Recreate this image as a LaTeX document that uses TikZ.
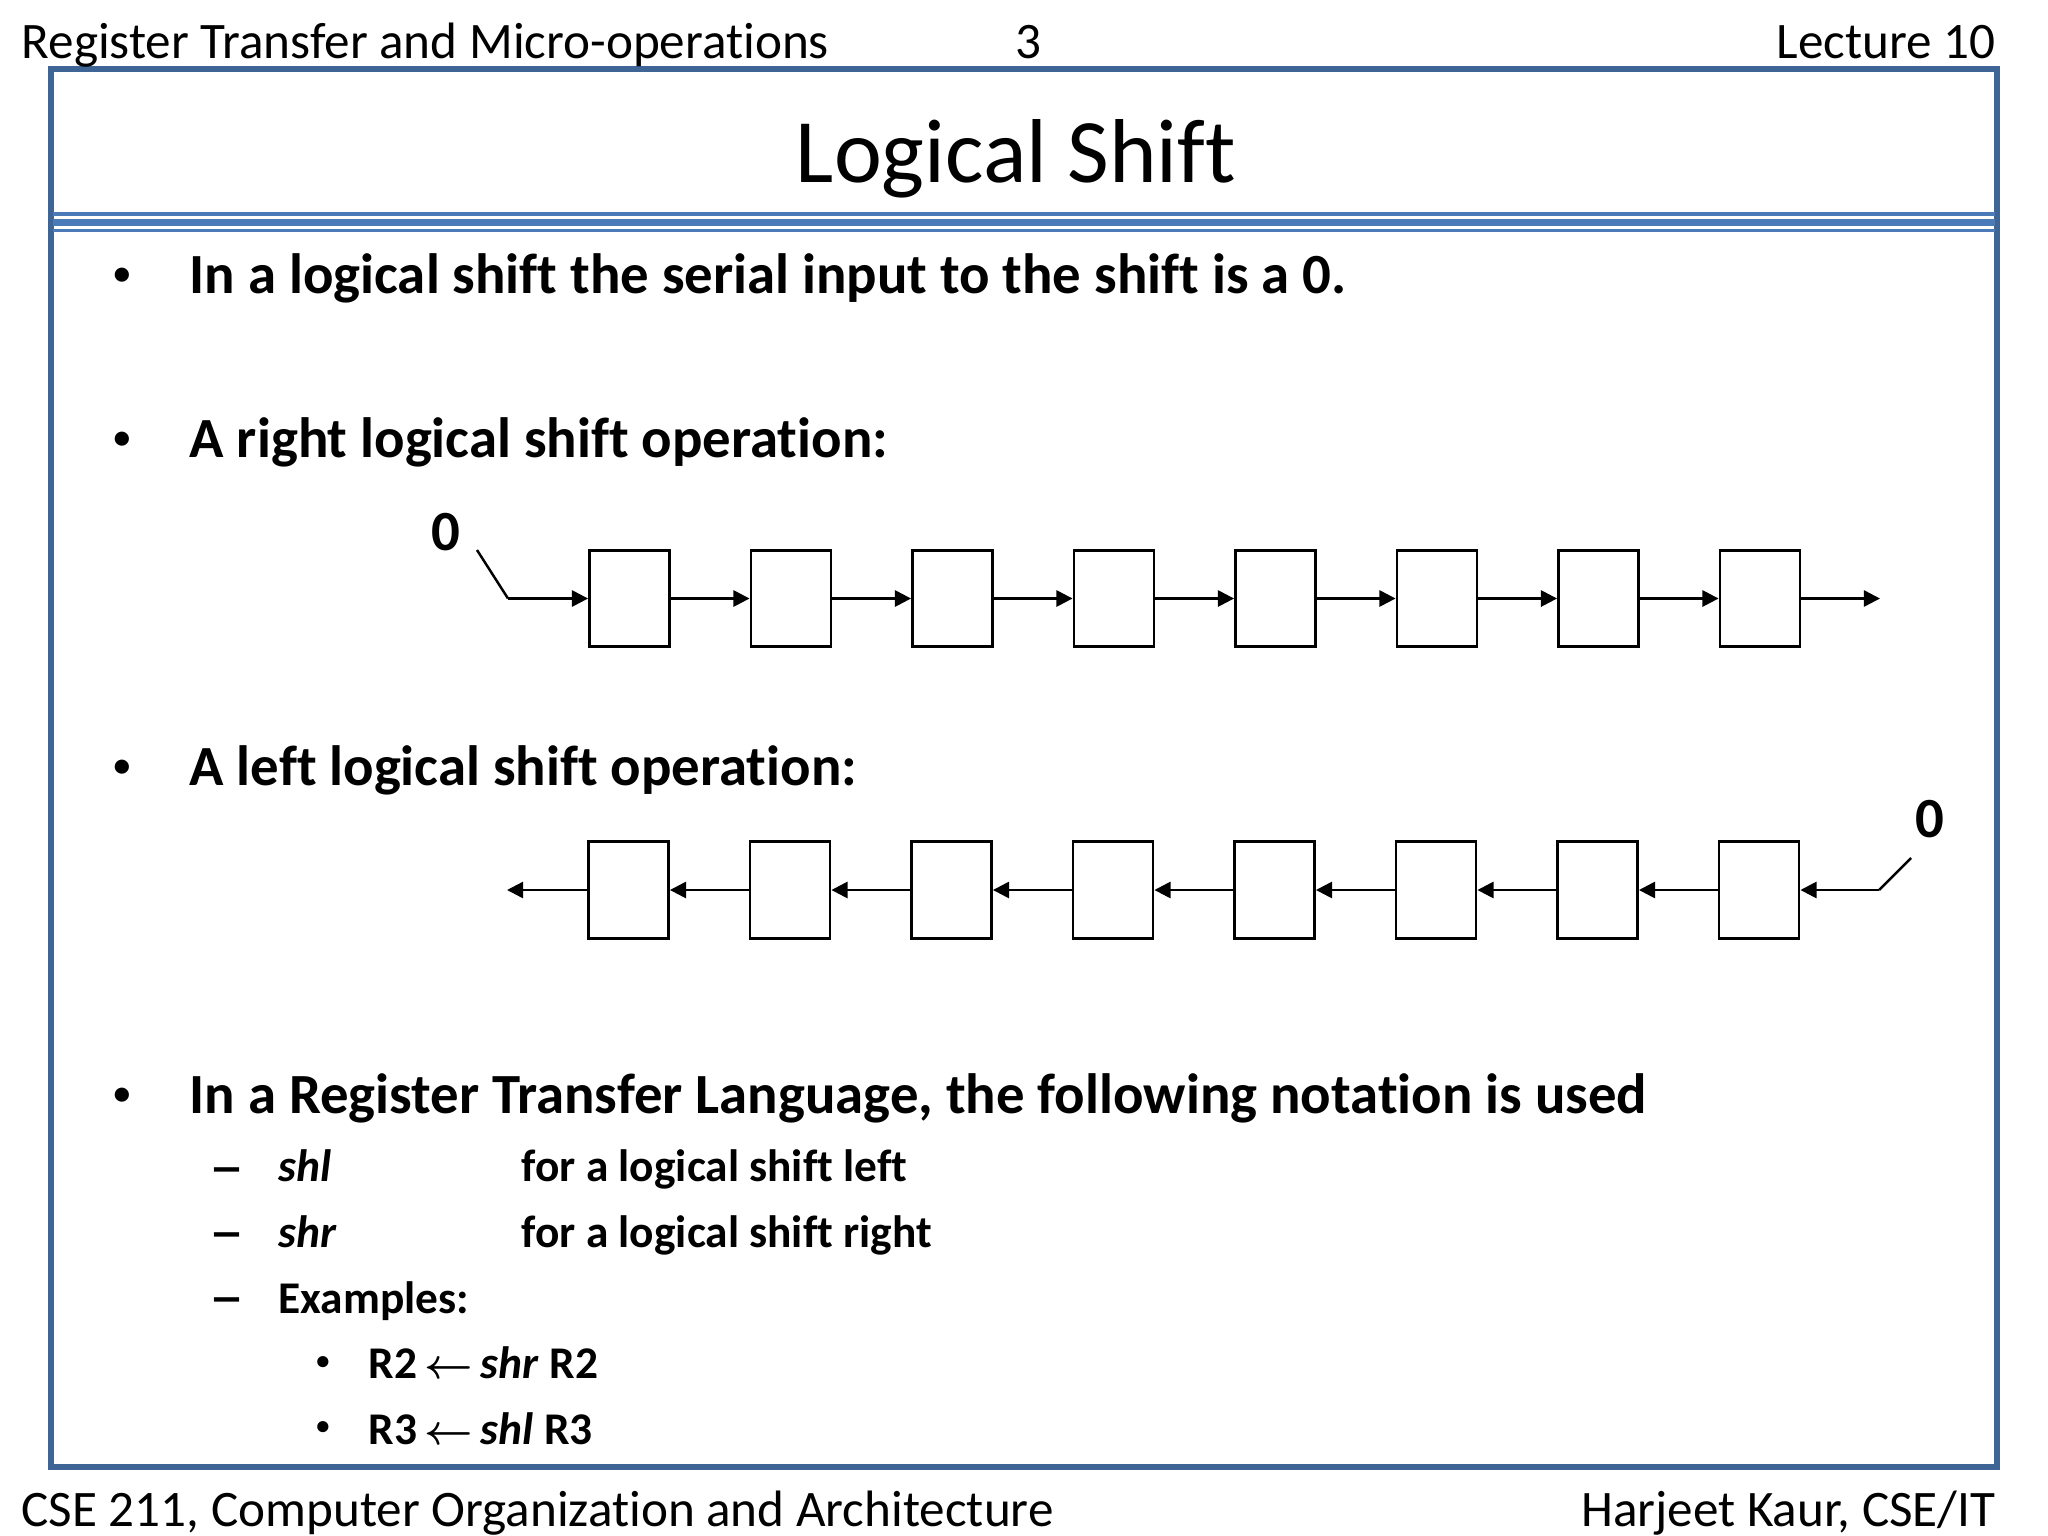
\documentclass[tikz,border=0pt]{standalone}
\usepackage{fontspec}
\setmainfont{Carlito}[Ligatures=NoCommon]
\usetikzlibrary{arrows.meta}
\definecolor{framecol}{HTML}{3F6597}
\definecolor{rulecol}{HTML}{4A7AB8}
\tikzset{
  hdr/.style={font=\fontsize{14.55}{16}\selectfont,inner sep=0pt,anchor=base west},
  lvlone/.style={font=\fontsize{16.15}{18}\selectfont\bfseries,inner sep=0pt,anchor=base west},
  lvltwo/.style={font=\fontsize{12.9}{14}\selectfont\bfseries\boldmath,inner sep=0pt,anchor=base west},
  dotone/.style={font=\fontsize{9.5}{10}\selectfont\bfseries,inner sep=0pt},
  dottwo/.style={font=\fontsize{7.5}{8}\selectfont\bfseries,inner sep=0pt},
  dashmark/.style={font=\fontsize{20}{22}\selectfont,inner sep=0pt},
  reg/.style={draw,line width=0.8pt,minimum width=0.80cm,minimum height=0.965cm,inner sep=0pt},
  link/.style={line width=0.7pt,-{Triangle[length=4.6pt,width=4.6pt]}},
  wire/.style={line width=0.7pt}
}
\begin{document}
\begin{tikzpicture}[x=0.01cm,y=-0.01cm]
\useasboundingbox (0,0) rectangle (2048,1536);

\draw[framecol,line width=1.5pt] (51,69) rectangle (1997,1467);
\fill[rulecol] (53,212) rectangle (1995,216);
\fill[rulecol] (53,219) rectangle (1995,226);
\fill[rulecol] (53,229) rectangle (1995,232);

\node[hdr] (head) at (21,58) {Register Transfer and Micro-operations};
\node[hdr,anchor=base] (page) at (1028,58) {3};
\node[hdr,anchor=base east] (lect) at (1996,58) {Lecture 10};
\node[hdr] (foot) at (21,1526) {CSE 211, Computer Organization and Architecture};
\node[hdr,anchor=base east] (name) at (1996,1526) {Harjeet Kaur, CSE/IT};
\node[font=\fontsize{25.8}{28}\selectfont,inner sep=0pt,anchor=base] (title) at (1016,182) {Logical Shift};

\node[dotone] (b1) at (122,276) {•};
\node[lvlone] (t1) at (189,293) {In a logical shift the serial input to the shift is a 0.};
\node[dotone] (b2) at (122,440) {•};
\node[lvlone] (t2) at (189,457) {A right logical shift operation:};
\node[dotone] (b3) at (122,768) {•};
\node[lvlone] (t3) at (189,785) {A left logical shift operation:};
\node[dotone] (b4) at (122,1096) {•};
\node[lvlone] (t4) at (189,1113) {In a Register Transfer Language, the following notation is used};

\node[dashmark] (d1) at (227,1179) {–};
\node[lvltwo] (shl) at (278,1181) {\itshape shl};
\node[lvltwo] (shlt) at (521,1181) {for a logical shift left};
\node[dashmark] (d2) at (227,1244) {–};
\node[lvltwo] (shr) at (278,1247) {\itshape shr};
\node[lvltwo] (shrt) at (521,1247) {for a logical shift right};
\node[dashmark] (d3) at (227,1309) {–};
\node[lvltwo] (ex) at (278,1313) {Examples:};
\node[dottwo] (b5) at (323,1363) {•};
\node[lvltwo] (ex1) at (368,1378) {R2\,$\leftarrow$\,\textit{shr} R2};
\node[dottwo] (b6) at (323,1428) {•};
\node[lvltwo] (ex2) at (368,1444) {R3\,$\leftarrow$\,\textit{shl} R3};

\node[lvlone,anchor=center] (za) at (446,532) {0};
\coordinate (sa) at (477,550);
\coordinate (sb) at (508,598.5);
\coordinate (oa) at (1880,598.5);
\foreach \i in {1,...,8}
  \node[reg] (a\i) at ({629.5+161.5*(\i-1)},598.5) {};
\draw[wire] (sa) -- (sb);
\draw[link] (sb) -- (a1.west);
\foreach \i/\j in {1/2,2/3,3/4,4/5,5/6,6/7,7/8}
  \draw[link] (a\i.east) -- (a\j.west);
\draw[link] (a8.east) -- (oa);

\node[lvlone,anchor=center] (zb) at (1930,819) {0};
\coordinate (sc) at (1911,858);
\coordinate (sd) at (1879,890);
\coordinate (ob) at (507,890);
\foreach \i in {1,...,8}
  \node[reg] (c\i) at ({628.5+161.5*(\i-1)},890) {};
\draw[wire] (sc) -- (sd);
\draw[link] (sd) -- (c8.east);
\foreach \i/\j in {8/7,7/6,6/5,5/4,4/3,3/2,2/1}
  \draw[link] (c\i.west) -- (c\j.east);
\draw[link] (c1.west) -- (ob);
\end{tikzpicture}
\end{document}
